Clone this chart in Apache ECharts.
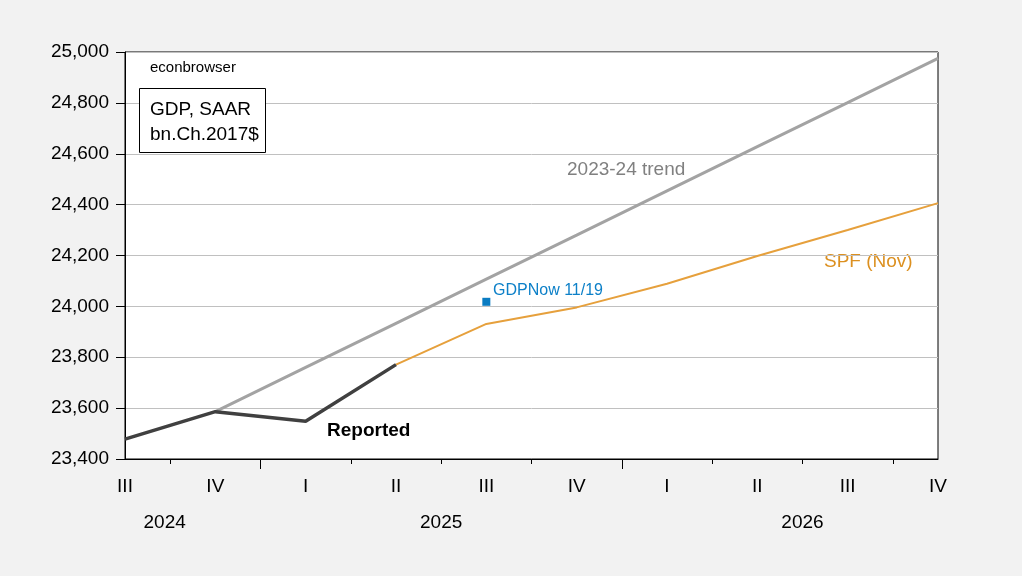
<!DOCTYPE html>
<html>
<head>
<meta charset="utf-8">
<script src="https://cdn.jsdelivr.net/npm/echarts@6/dist/echarts.min.js"></script>
<style>
html,body{margin:0;padding:0;background:#f2f2f2;}
#c{width:1022px;height:576px;}
</style>
</head>
<body>
<div id="c"></div>
<script>
var categories = ['2024Q3','2024Q4','2025Q1','2025Q2','2025Q3','2025Q4','2026Q1','2026Q2','2026Q3','2026Q4'];
var quarterLabels = ['III','IV','I','II','III','IV','I','II','III','IV'];
var yearLabels = {1:'2024', 7:'2025', 15:'2026'};
var reported = [23478, 23586, 23548, 23771, null, null, null, null, null, null];
var trend = [null, 23586, 23760, 23933, 24107, 24280, 24454, 24628, 24801, 24975];
var spf = [null, null, null, 23771, 23931, 23996, 24089, 24198, 24300, 24406];
var gdpnow = [null, null, null, null, 24018, null, null, null, null, null];
var yTicks = {min: 23400, max: 25000, step: 200};

var halfSteps = [];
for (var i = 0; i < categories.length * 2 - 1; i++) halfSteps.push('h' + i);
var yearBoundaries = [3, 11];

var FONT = 'Liberation Sans, Arial, sans-serif';
var chart = echarts.init(document.getElementById('c'));
var option = {
  backgroundColor: '#f2f2f2',
  animation: false,
  textStyle: {fontFamily: FONT},
  grid: {left: 125, right: 84, top: 52, bottom: 117, show: true, backgroundColor: '#ffffff', borderColor: '#000000', borderWidth: 1},
  xAxis: [
    {
      type: 'category', data: categories, boundaryGap: false, position: 'bottom',
      axisLine: {show: true, lineStyle: {color: '#000', width: 1}},
      axisTick: {show: false},
      splitLine: {show: false},
      axisLabel: {interval: 0, margin: 18, color: '#000', fontSize: 19, fontFamily: FONT,
        formatter: function (v, idx) { return quarterLabels[idx]; }}
    },
    {
      type: 'category', data: halfSteps, boundaryGap: false, position: 'bottom',
      axisLine: {show: false},
      axisTick: {show: true, length: 5, interval: function (i) { return i % 2 === 1; }, lineStyle: {color: '#000'}},
      splitLine: {show: false},
      axisLabel: {show: true, margin: 54, color: '#000', fontSize: 19, fontFamily: FONT,
        interval: function (i) { return yearLabels[i] !== undefined; },
        formatter: function (v, idx) {
          if (idx === 1) return '{a|' + yearLabels[idx] + '}';
          return yearLabels[idx] || '';
        },
        rich: {a: {fontSize: 19, fontFamily: FONT, color: '#000', padding: [0, 11, 0, 0]}}}
    },
    {
      type: 'category', data: halfSteps, boundaryGap: false, position: 'bottom',
      axisLine: {show: false},
      axisTick: {show: true, length: 10, interval: function (i) { return yearBoundaries.indexOf(i) >= 0; }, lineStyle: {color: '#000'}},
      splitLine: {show: false},
      axisLabel: {show: false}
    }
  ],
  yAxis: {
    type: 'value', min: yTicks.min, max: yTicks.max, interval: yTicks.step,
    axisLine: {show: true, lineStyle: {color: '#000'}},
    axisTick: {show: true, length: 9, lineStyle: {color: '#000'}},
    splitLine: {show: true, lineStyle: {color: '#c0c0c0', width: 1}},
    axisLabel: {margin: 16, color: '#000', fontSize: 19, fontFamily: FONT,
      formatter: function (v) { return v.toLocaleString('en-US'); }}
  },
  series: [
    {name: '2023-24 trend', type: 'line', data: trend, xAxisIndex: 0, showSymbol: false, symbol: 'none',
      lineStyle: {color: '#a3a3a3', width: 3}, z: 2},
    {name: 'SPF (Nov)', type: 'line', data: spf, xAxisIndex: 0, showSymbol: false, symbol: 'none',
      lineStyle: {color: '#e6a03c', width: 2}, z: 3},
    {name: 'Reported', type: 'line', data: reported, xAxisIndex: 0, showSymbol: false, symbol: 'none',
      lineStyle: {color: '#404040', width: 3.5}, z: 4},
    {name: 'GDPNow 11/19', type: 'scatter', data: gdpnow, xAxisIndex: 0, symbol: 'rect', symbolSize: 8,
      itemStyle: {color: '#0a7cc2', opacity: 1}, z: 5}
  ],
  graphic: [
    {type: 'text', left: 150, top: 60, style: {text: 'econbrowser', font: '15px ' + FONT, fill: '#000'}},
    {type: 'rect', shape: {x: 139.5, y: 88.5, width: 126, height: 64}, style: {fill: '#fff', stroke: '#000', lineWidth: 1}, z: 10},
    {type: 'text', left: 150, top: 100, z: 11, style: {text: 'GDP, SAAR', font: '19px ' + FONT, fill: '#000'}},
    {type: 'text', left: 150, top: 125, z: 11, style: {text: 'bn.Ch.2017$', font: '19px ' + FONT, fill: '#000'}},
    {type: 'text', left: 567, top: 160, style: {text: '2023-24 trend', font: '19px ' + FONT, fill: '#808080'}},
    {type: 'text', left: 493, top: 283, style: {text: 'GDPNow 11/19', font: '16px ' + FONT, fill: '#0d80c8'}},
    {type: 'text', left: 824, top: 252, style: {text: 'SPF (Nov)', font: '19px ' + FONT, fill: '#dc9020'}},
    {type: 'text', left: 327, top: 421, style: {text: 'Reported', font: 'bold 19px ' + FONT, fill: '#000'}}
  ]
};
chart.setOption(option);
</script>
</body>
</html>
